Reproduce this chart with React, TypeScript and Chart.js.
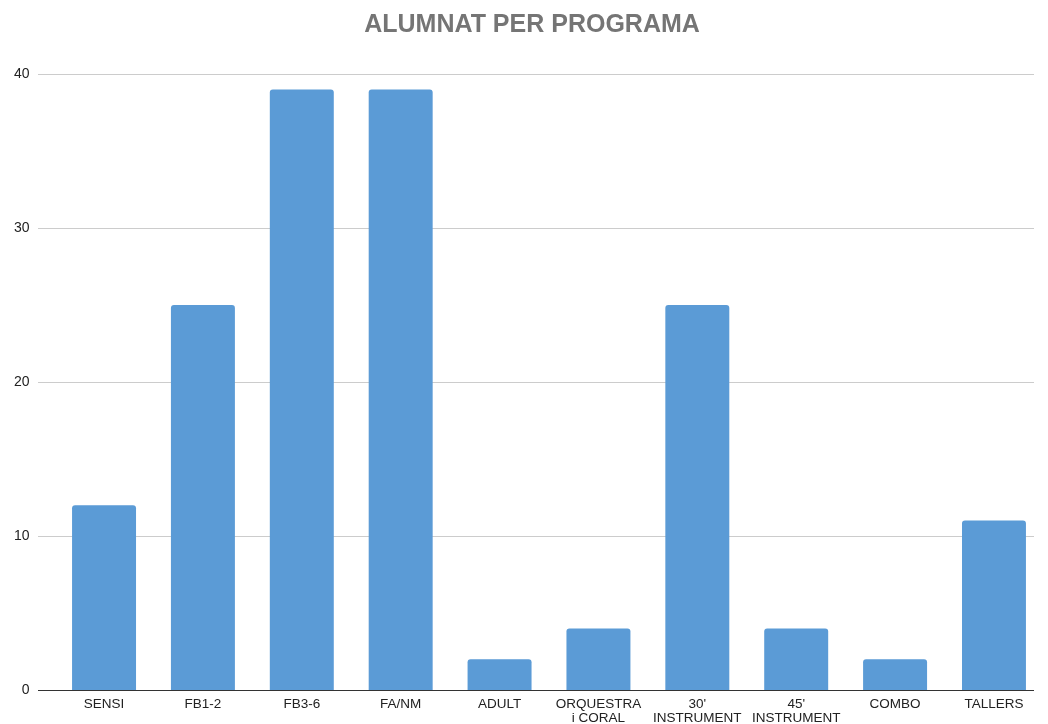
import React, { useEffect, useRef } from "react";
import { Chart, registerables } from "chart.js";

Chart.register(...registerables);

const categories: (string | string[])[] = [
  "SENSI",
  "FB1-2",
  "FB3-6",
  "FA/NM",
  "ADULT",
  ["ORQUESTRA", "i CORAL"],
  ["30'", "INSTRUMENT"],
  ["45'", "INSTRUMENT"],
  "COMBO",
  "TALLERS",
];
const alumnes: number[] = [12, 25, 39, 39, 2, 4, 25, 4, 2, 11];
const yTicks: number[] = [0, 10, 20, 30, 40];
const titleText = "ALUMNAT PER PROGRAMA";

const FONT = "'Liberation Sans', Arial, sans-serif";

const gridPlugin = {
  id: "customGrid",
  beforeDatasetsDraw(chart: any) {
    const { ctx } = chart;
    const y = chart.scales.y;
    ctx.save();
    yTicks.forEach((v) => {
      const py = Math.round(y.getPixelForValue(v)) + 0.5;
      ctx.beginPath();
      ctx.strokeStyle = v === 0 ? "#333333" : "#cccccc";
      ctx.lineWidth = 1;
      ctx.moveTo(38, py);
      ctx.lineTo(1034, py);
      ctx.stroke();
    });
    ctx.restore();
  },
};

const titlePlugin = {
  id: "customTitle",
  afterDraw(chart: any) {
    const { ctx } = chart;
    ctx.save();
    ctx.fillStyle = "#757575";
    ctx.font = `bold 25px ${FONT}`;
    ctx.textAlign = "center";
    ctx.textBaseline = "middle";
    ctx.fillText(titleText, 532, 25);
    ctx.restore();
  },
};

export default function App() {
  const ref = useRef<HTMLCanvasElement>(null);
  useEffect(() => {
    if (!ref.current) return;
    const chart = new Chart(ref.current, {
      type: "bar",
      data: {
        labels: categories,
        datasets: [
          {
            data: alumnes,
            backgroundColor: "#5b9bd6",
            borderRadius: { topLeft: 3, topRight: 3, bottomLeft: 0, bottomRight: 0 },
            borderSkipped: false,
            barPercentage: 0.647,
            categoryPercentage: 1,
          },
        ],
      },
      options: {
        responsive: false,
        animation: false,
        layout: { padding: { left: 0, right: 4.6, top: 74, bottom: 0 } },
        plugins: {
          legend: { display: false },
          tooltip: { enabled: false },
          title: { display: false },
        },
        scales: {
          x: {
            grid: { display: false, drawTicks: false },
            border: { display: false },
            ticks: {
              color: "#222222",
              font: { family: FONT, size: 13.5, lineHeight: 1.0 },
              padding: 8,
              maxRotation: 0,
              autoSkip: false,
            },
            afterFit(scale: any) {
              scale.height = 34;
            },
          },
          y: {
            min: 0,
            max: 40,
            grid: { display: false, drawTicks: false },
            border: { display: false },
            ticks: {
              stepSize: 10,
              color: "#222222",
              font: { family: FONT, size: 14 },
              padding: 25,
            },
            afterFit(scale: any) {
              scale.width = 54.6;
            },
          },
        },
      },
      plugins: [gridPlugin, titlePlugin],
    });
    return () => chart.destroy();
  }, []);
  return (
    <div style={{ position: "fixed", left: 0, top: 0, width: 1048, height: 724, background: "#fff" }}>
      <canvas ref={ref} width={1048} height={724} />
    </div>
  );
}
